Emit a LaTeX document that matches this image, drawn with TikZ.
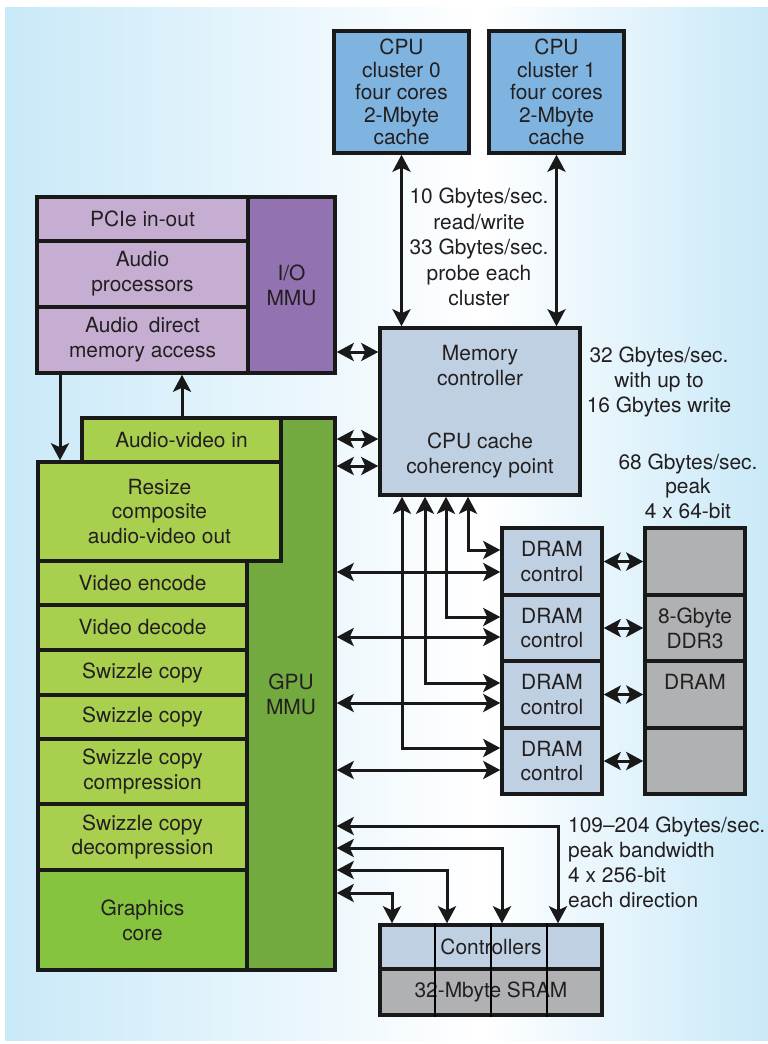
\documentclass[tikz,border=0pt]{standalone}
\usepackage{fontspec}
\setmainfont{TeX Gyre Heros}
\usepackage{xcolor}
\usetikzlibrary{arrows.meta}
\definecolor{bgblue}{HTML}{C9E9F8}
\definecolor{cpublue}{HTML}{7FB4E0}
\definecolor{ctlblue}{HTML}{BED0E2}
\definecolor{iolight}{HTML}{C6AED3}
\definecolor{iodark}{HTML}{9372B2}
\definecolor{gpulight}{HTML}{A9CF4F}
\definecolor{gpudark}{HTML}{72AA40}
\definecolor{corecolor}{HTML}{86C440}
\definecolor{memgray}{HTML}{B0B1B3}
\definecolor{txtgray}{HTML}{231F20}

\begin{document}
\begin{tikzpicture}[x=1bp, y=-1bp,
    blk/.style={rectangle, draw=black!90, line width=3.5bp, fill=#1, align=center, inner sep=0pt, text=txtgray, font=\fontsize{21}{25}\selectfont},
    blk/.default=white,
    note/.style={align=center, inner sep=0pt, text=txtgray, font=\fontsize{21}{25}\selectfont},
    arrow/.style={-{Stealth[length=17bp, width=18bp, inset=4bp]}, line width=3bp, draw=black!90},
    dbl/.style={{Stealth[length=17bp, width=18bp, inset=4bp]}-{Stealth[length=17bp, width=18bp, inset=4bp]}, line width=3bp, draw=black!90}
]
\useasboundingbox (0,0) rectangle (768,1044);
\shade[left color=bgblue, right color=white] (5,7) rectangle (480,1040);
\shade[left color=white, right color=bgblue] (480,7) rectangle (768,1040);

\node[blk=cpublue, minimum width=135bp, minimum height=122bp, font=\fontsize{21}{22.5}\selectfont] (cpu0) at (401.5,92) {CPU\\cluster 0\\four cores\\2-Mbyte\\cache};
\node[blk=cpublue, minimum width=135bp, minimum height=122bp, font=\fontsize{21}{22.5}\selectfont] (cpu1) at (556.5,92) {CPU\\cluster 1\\four cores\\2-Mbyte\\cache};
\node[note, font=\fontsize{21}{25.5}\selectfont] (cpubw) at (479,247) {10 Gbytes/sec.\\read/write\\33 Gbytes/sec.\\probe each\\cluster};

\node[blk=iolight, minimum width=211bp, minimum height=44bp] (pcie) at (142.5,219) {PCIe in-out};
\node[blk=iolight, minimum width=211bp, minimum height=66bp] (audproc) at (142.5,274) {Audio\\processors};
\node[blk=iolight, minimum width=211bp, minimum height=66bp] (auddma) at (142.5,340) {Audio\enspace direct\\memory access};
\node[blk=iodark, minimum width=87bp, minimum height=176bp] (iommu) at (291.5,285) {I/O\\MMU};

\node[blk=ctlblue, minimum width=200bp, minimum height=167bp] (mc) at (480,411.5) {Memory\\controller\\[38bp]CPU cache\\coherency point};
\node[note] (mcbw) at (659,382) {32 Gbytes/sec.\\with up to\\16 Gbytes write};
\node[note, font=\fontsize{21}{24.5}\selectfont] (drambw) at (688,486) {68 Gbytes/sec.\\peak\\4 x 64-bit};

\node[blk=gpudark, minimum width=88bp, minimum height=552bp] (gpummu) at (291,694) {GPU\\MMU};
\node[blk=gpulight, minimum width=199bp, minimum height=44bp] (avin) at (181.5,440) {Audio-video in};
\node[blk=gpulight, minimum width=243bp, minimum height=99bp] (resize) at (159.5,511.5) {Resize\\composite\\audio-video out};
\node[blk=gpulight, minimum width=209bp, minimum height=44bp] (venc) at (142.5,583) {Video encode};
\node[blk=gpulight, minimum width=209bp, minimum height=45bp] (vdec) at (142.5,627.5) {Video decode};
\node[blk=gpulight, minimum width=209bp, minimum height=45bp] (swz1) at (142.5,672.5) {Swizzle copy};
\node[blk=gpulight, minimum width=209bp, minimum height=44bp] (swz2) at (142.5,717) {Swizzle copy};
\node[blk=gpulight, minimum width=209bp, minimum height=65bp] (swzc) at (142.5,771.5) {Swizzle copy\\compression};
\node[blk=gpulight, minimum width=209bp, minimum height=66bp] (swzd) at (142.5,837) {Swizzle copy\\decompression};
\node[blk=corecolor, minimum width=209bp, minimum height=100bp] (gcore) at (142.5,920) {Graphics\\core};

\node[blk=ctlblue, minimum width=100bp, minimum height=67bp] (dram1) at (552,561.5) {DRAM\\control};
\node[blk=ctlblue, minimum width=100bp, minimum height=66bp] (dram2) at (552,628) {DRAM\\control};
\node[blk=ctlblue, minimum width=100bp, minimum height=67bp] (dram3) at (552,694.5) {DRAM\\control};
\node[blk=ctlblue, minimum width=100bp, minimum height=66bp] (dram4) at (552,761) {DRAM\\control};
\node[blk=memgray, minimum width=100bp, minimum height=67bp] (ddr1) at (695,561.5) {};
\node[blk=memgray, minimum width=100bp, minimum height=66bp] (ddr2) at (695,628) {8-Gbyte\\DDR3};
\node[blk=memgray, minimum width=100bp, minimum height=67bp] (ddr3) at (695,694.5) {DRAM\\\mbox{}};
\node[blk=memgray, minimum width=100bp, minimum height=66bp] (ddr4) at (695,761) {};

\node[blk=ctlblue, minimum width=222bp, minimum height=44bp] (sramctl) at (491,947) {Controllers};
\node[blk=memgray, minimum width=222bp, minimum height=46bp] (sram) at (491,992) {32-Mbyte SRAM};
\foreach \cx in {435,491,547}
  \draw[line width=1.5bp] (sramctl.north -| \cx,0) -- (sram.south -| \cx,0);
\node[note, align=left, anchor=west] (srambw) at (568,862.5) {109--204 Gbytes/sec.\\peak bandwidth\\4 x 256-bit\\each direction};

\draw[dbl] (cpu0.south) -- (cpu0.south |- mc.north);
\draw[dbl] (cpu1.south) -- (cpu1.south |- mc.north);
\draw[dbl] (iommu.east |- 0,352) -- (mc.west |- 0,352);
\draw[dbl] (gpummu.east |- 0,439) -- (mc.west |- 0,439);
\draw[dbl] (gpummu.east |- 0,466) -- (mc.west |- 0,466);
\draw[arrow] (auddma.south -| 60,0) -- (resize.north -| 60,0);
\draw[arrow] (avin.north -| 182,0) -- (auddma.south -| 182,0);

\draw[dbl] (mc.south -| 468,0) |- (dram1.west |- 0,550);
\draw[dbl] (mc.south -| 446,0) |- (dram2.west |- 0,617);
\draw[dbl] (mc.south -| 425,0) |- (dram3.west |- 0,683);
\draw[dbl] (mc.south -| 402,0) |- (dram4.west |- 0,748);
\draw[dbl] (gpummu.east |- 0,572) -- (dram1.west |- 0,572);
\draw[dbl] (gpummu.east |- 0,637) -- (dram2.west |- 0,637);
\draw[dbl] (gpummu.east |- 0,703) -- (dram3.west |- 0,703);
\draw[dbl] (gpummu.east |- 0,770) -- (dram4.west |- 0,770);
\draw[dbl] (dram1.east) -- (ddr1.west);
\draw[dbl] (dram2.east) -- (ddr2.west);
\draw[dbl] (dram3.east) -- (ddr3.west);
\draw[dbl] (dram4.east) -- (ddr4.west);

\draw[dbl] (gpummu.east |- 0,826) -| (sramctl.north -| 558,0);
\draw[dbl] (gpummu.east |- 0,848) -| (sramctl.north -| 502,0);
\draw[dbl] (gpummu.east |- 0,870) -| (sramctl.north -| 447,0);
\draw[dbl] (gpummu.east |- 0,893) -| (sramctl.north -| 392,0);
\end{tikzpicture}
\end{document}
